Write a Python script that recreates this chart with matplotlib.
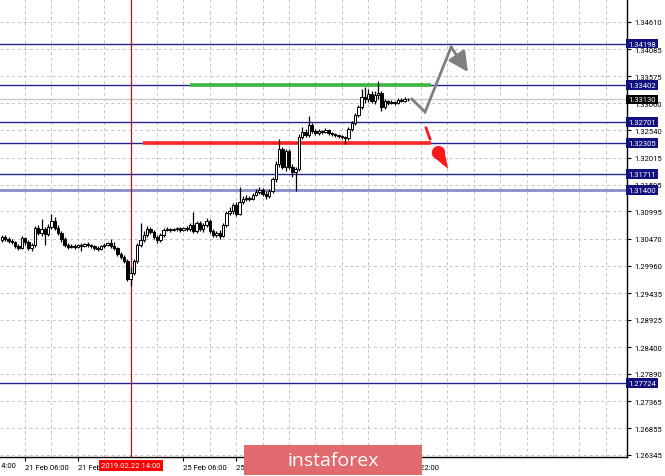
import matplotlib
matplotlib.use("Agg")
import matplotlib.pyplot as plt
from matplotlib import font_manager
from matplotlib.patches import Rectangle
import matplotlib.transforms as mtransforms

# ---------------- data ----------------
opens = [1.30447,1.30504,1.30466,1.30428,1.30409,1.30332,1.30294,1.30485,1.30409,1.30294,
         1.30351,1.30676,1.30581,1.30657,1.30562,1.30695,1.30810,1.30676,1.30581,1.30466,
         1.30351,1.30313,1.30332,1.30313,1.30351,1.30332,1.30371,1.30351,1.30332,1.30294,
         1.30275,1.30332,1.30351,1.30390,1.30332,1.30294,1.30179,1.30122,1.30046,1.29702,
         1.29817,1.30046,1.30351,1.30447,1.30542,1.30657,1.30600,1.30504,1.30447,1.30542,
         1.30638,1.30657,1.30638,1.30657,1.30676,1.30638,1.30676,1.30657,1.30733,1.30619,
         1.30772,1.30657,1.30733,1.30810,1.30619,1.30542,1.30581,1.30523,1.30733,1.30963,
         1.31001,1.31115,1.30943,1.31173,1.31230,1.31249,1.31230,1.31306,1.31364,1.31402,
         1.31326,1.31287,1.31383,1.31612,1.31898,1.32185,1.31841,1.32147,1.31841,1.31746,
         1.31803,1.32414,1.32509,1.32452,1.32643,1.32529,1.32490,1.32529,1.32509,1.32548,
         1.32490,1.32471,1.32452,1.32433,1.32414,1.32395,1.32567,1.32682,1.32834,1.32987,
         1.33177,1.33139,1.33234,1.33101,1.33215,1.33254,1.32987,1.33101,1.33063,1.33082,
         1.33063,1.33120,1.33101,1.33139]
highs = [1.30542,1.30542,1.30504,1.30466,1.30428,1.30371,1.30523,1.30504,1.30447,1.30390,
         1.30714,1.30733,1.30848,1.30695,1.30752,1.30943,1.30886,1.30733,1.30619,1.30504,
         1.30390,1.30371,1.30371,1.30371,1.30390,1.30390,1.30409,1.30371,1.30351,1.30332,
         1.30351,1.30390,1.30409,1.30466,1.30409,1.30313,1.30218,1.30160,1.30084,1.29931,
         1.30084,1.30390,1.30772,1.30619,1.30714,1.30695,1.30638,1.30542,1.30581,1.30676,
         1.30695,1.30676,1.30676,1.30695,1.30695,1.30695,1.30714,1.30772,1.30982,1.30810,
         1.30810,1.30772,1.30867,1.30848,1.30657,1.30619,1.30638,1.30772,1.31001,1.31077,
         1.31154,1.31173,1.31459,1.31287,1.31306,1.31287,1.31345,1.31421,1.31459,1.31440,
         1.31383,1.31421,1.31650,1.31956,1.32376,1.32223,1.32185,1.32185,1.31898,1.31841,
         1.32471,1.32605,1.32567,1.32815,1.32682,1.32567,1.32567,1.32548,1.32586,1.32567,
         1.32509,1.32490,1.32471,1.32452,1.32433,1.32605,1.32720,1.32872,1.33025,1.33330,
         1.33368,1.33330,1.33292,1.33292,1.33483,1.33292,1.33139,1.33120,1.33120,1.33101,
         1.33158,1.33158,1.33177,1.33158]
lows = [1.30409,1.30428,1.30390,1.30371,1.30294,1.30256,1.30275,1.30351,1.30256,1.30237,
        1.30313,1.30542,1.30523,1.30351,1.30523,1.30657,1.30638,1.30542,1.30409,1.30313,
        1.30275,1.30294,1.30275,1.30294,1.30237,1.30313,1.30313,1.30294,1.30256,1.30237,
        1.30256,1.30294,1.30332,1.30294,1.30256,1.30141,1.30084,1.30008,1.29664,1.29568,
        1.29779,1.30008,1.30313,1.30409,1.30504,1.30562,1.30466,1.30390,1.30409,1.30504,
        1.30619,1.30600,1.30619,1.30619,1.30600,1.30619,1.30619,1.30619,1.30581,1.30581,
        1.30619,1.30600,1.30695,1.30581,1.30504,1.30504,1.30466,1.30504,1.30695,1.30924,
        1.30943,1.30905,1.30924,1.31135,1.31192,1.31192,1.31211,1.31287,1.31326,1.31287,
        1.31230,1.31249,1.31345,1.31555,1.31841,1.31803,1.31765,1.31803,1.31650,1.31383,
        1.31765,1.32376,1.32414,1.32414,1.32490,1.32452,1.32452,1.32471,1.32490,1.32452,
        1.32433,1.32414,1.32395,1.32376,1.32281,1.32357,1.32529,1.32643,1.32796,1.32949,
        1.33063,1.33082,1.33063,1.33044,1.33139,1.32911,1.32949,1.33025,1.33044,1.33025,
        1.33044,1.33082,1.33082,1.33101]
closes = [1.30504,1.30466,1.30428,1.30409,1.30332,1.30294,1.30485,1.30409,1.30294,1.30351,
          1.30676,1.30581,1.30657,1.30562,1.30695,1.30810,1.30676,1.30581,1.30466,1.30351,
          1.30313,1.30332,1.30313,1.30351,1.30332,1.30371,1.30351,1.30332,1.30294,1.30275,
          1.30332,1.30351,1.30390,1.30332,1.30294,1.30179,1.30122,1.30046,1.29702,1.29817,
          1.30046,1.30351,1.30447,1.30542,1.30657,1.30600,1.30504,1.30447,1.30542,1.30638,
          1.30657,1.30638,1.30657,1.30676,1.30638,1.30676,1.30657,1.30733,1.30619,1.30772,
          1.30657,1.30733,1.30810,1.30619,1.30542,1.30581,1.30523,1.30733,1.30963,1.31001,
          1.31115,1.30943,1.31173,1.31230,1.31249,1.31230,1.31306,1.31364,1.31402,1.31326,
          1.31287,1.31383,1.31612,1.31898,1.32185,1.31841,1.32147,1.31841,1.31746,1.31803,
          1.32414,1.32509,1.32452,1.32643,1.32529,1.32490,1.32529,1.32509,1.32548,1.32490,
          1.32471,1.32452,1.32433,1.32414,1.32395,1.32567,1.32682,1.32834,1.32987,1.33177,
          1.33139,1.33234,1.33101,1.33215,1.33254,1.32987,1.33101,1.33063,1.33082,1.33063,
          1.33120,1.33101,1.33139,1.33130]

y_ticks = [1.34610,1.34085,1.33575,1.33060,1.32540,1.32015,1.31505,1.30995,1.30470,
           1.29960,1.29435,1.28925,1.28400,1.27890,1.27365,1.26855,1.26345]
level_prices = [1.34198,1.33402,1.32701,1.32305,1.31711,1.27724]
support_level = 1.31400
current_price = 1.33130
x_tick_bars = [-9, 7, 23, 55, 71, 87, 103, 119]
x_tick_labels = ["20 Feb 14:00", "21 Feb 06:00", "21 Feb 22:00", "25 Feb 06:00",
                 "25 Feb 22:00", "26 Feb 14:00", "27 Feb 06:00", "27 Feb 22:00"]
marker_bar = 39
marker_label = "2019.02.22 14:00"
green_price, green_span = 1.33402, (57.0, 130.0)
red_price, red_span = 1.32305, (42.7, 130.0)
up_path_x = [124.2, 128.2, 136.1]
up_path_y = [1.33139, 1.32891, 1.34132]
up_head = (141.2, 1.33655)
down_dash_x = [128.5, 129.7]
down_dash_y = [1.32586, 1.32376]
down_ball = (132.1, 1.32128)
down_tip = (135.2, 1.31803)

# ---------------- fonts ----------------
def has_font(name):
    try:
        font_manager.findfont(name, fallback_to_default=False)
        return True
    except Exception:
        return False

if has_font("Liberation Sans Narrow"):
    tfont, tsize = "Liberation Sans Narrow", 6.0
elif has_font("Roboto"):
    tfont, tsize = "Roboto", 5.5
else:
    tfont, tsize = "DejaVu Sans", 5.0

# ---------------- figure ----------------
W, H = 665, 477
fig = plt.figure(figsize=(W / 100, H / 100), dpi=100)
ax = fig.add_axes([0, 19 / H, 627 / W, 458 / H])
ax.set_xlim(-0.6, 189.4)
ax.set_ylim(1.263035, 1.35049)

for s in ("top", "left"):
    ax.spines[s].set_visible(False)
for s in ("right", "bottom"):
    ax.spines[s].set_color("black")
    ax.spines[s].set_linewidth(1.0)

grid_kw = dict(color="#c4c4c4", lw=0.7, ls=(0, (3, 3)), zorder=0.5)
for p in y_ticks:
    ax.axhline(p, **grid_kw)
for b in range(-1, 190, 8):
    ax.axvline(b, **grid_kw)

# levels
for p in level_prices:
    ax.axhline(p, color="#24248a", lw=1.0, zorder=1)
ax.axhline(support_level, color="#8c8ccc", lw=2.0, zorder=1)
ax.axhline(current_price, color="#c8c8c8", lw=1.0, zorder=1)
ax.axvline(marker_bar, color="#c01020", lw=0.9, zorder=1)

# candles
idx = list(range(len(closes)))
ax.vlines(idx, lows, highs, color="black", lw=0.9, zorder=3)
heights = [c - o for o, c in zip(opens, closes)]
cols = ["white" if c >= o else "black" for o, c in zip(opens, closes)]
ax.bar(idx, heights, bottom=opens, width=0.72, color=cols, edgecolor="black",
       linewidth=0.7, zorder=4)

# green / red lines
ax.plot(green_span, [green_price] * 2, color="#3cb83c", lw=2.6, zorder=2,
        solid_capstyle="butt")
ax.plot(red_span, [red_price] * 2, color="#ff2626", lw=2.6, zorder=2,
        solid_capstyle="butt")

# grey up arrow
ax.plot(up_path_x, up_path_y, color="#7f7f7f", lw=2.0, zorder=5,
        solid_joinstyle="miter")
ax.annotate("", xy=up_head, xytext=(up_path_x[-1], up_path_y[-1]),
            arrowprops=dict(arrowstyle="-|>,head_length=1.2,head_width=0.6",
                            color="#7f7f7f", lw=2.0, shrinkA=0, shrinkB=0),
            zorder=5)

# red down arrow
ax.plot(down_dash_x, down_dash_y, color="#ff1a1a", lw=2.0, zorder=5)
ax.annotate("", xy=down_tip, xytext=down_ball,
            arrowprops=dict(arrowstyle="wedge,tail_width=1.0,shrink_factor=0.5",
                            color="#ff1a1a", lw=0, shrinkA=0, shrinkB=0), zorder=5)
ax.plot([down_ball[0]], [down_ball[1]], "o", color="#ff1a1a", ms=8.5, zorder=6)

# y ticks on right
ax.yaxis.tick_right()
ax.set_yticks(y_ticks)
ax.set_yticklabels([f"{p:.5f}" for p in y_ticks], fontsize=tsize, family=tfont)
ax.tick_params(axis="y", length=3, width=0.8, pad=2, colors="black")

# x ticks
ax.set_xticks([b for b in x_tick_bars if b >= 0])
ax.set_xticklabels([l for b, l in zip(x_tick_bars, x_tick_labels) if b >= 0],
                   fontsize=tsize, family=tfont)
for lab in ax.get_xticklabels():
    lab.set_horizontalalignment("left")
ax.tick_params(axis="x", length=3, width=0.8, pad=2)
xtf = mtransforms.blended_transform_factory(ax.transData, ax.transAxes)
for b, l in zip(x_tick_bars, x_tick_labels):
    if b < 0:
        ax.text(b, -0.012, l, transform=xtf, ha="left", va="top", fontsize=tsize,
                family=tfont, clip_on=False)

# level labels
btf = mtransforms.blended_transform_factory(ax.transAxes, ax.transData)
for p in level_prices + [support_level]:
    ax.text(1.002, p, f"{p:.5f}", transform=btf, ha="left", va="center",
            fontsize=tsize, family=tfont, color="white", zorder=10, clip_on=False,
            bbox=dict(boxstyle="square,pad=0.25", fc="#10107f", ec="none"))
ax.text(1.002, current_price, f"{current_price:.5f}", transform=btf, ha="left",
        va="center", fontsize=tsize, family=tfont, color="white", zorder=10,
        clip_on=False, bbox=dict(boxstyle="square,pad=0.25", fc="black", ec="none"))

# date marker label
ax.text(marker_bar, -0.012, marker_label, transform=xtf, ha="center", va="top",
        fontsize=tsize, family=tfont, color="white", zorder=10, clip_on=False,
        bbox=dict(boxstyle="square,pad=0.3", fc="#ff0000", ec="none"))

# logo
fig.patches.append(Rectangle((244 / W, 1 / H), 178 / W, 30 / H, transform=fig.transFigure,
                             facecolor="#e06a6e", edgecolor="none", zorder=20))
fig.text(333 / W, 15.5 / H, "instaforex", ha="center", va="center", color="white",
         fontsize=14, family="Open Sans", zorder=21)

fig.savefig("out.png", dpi=100)
